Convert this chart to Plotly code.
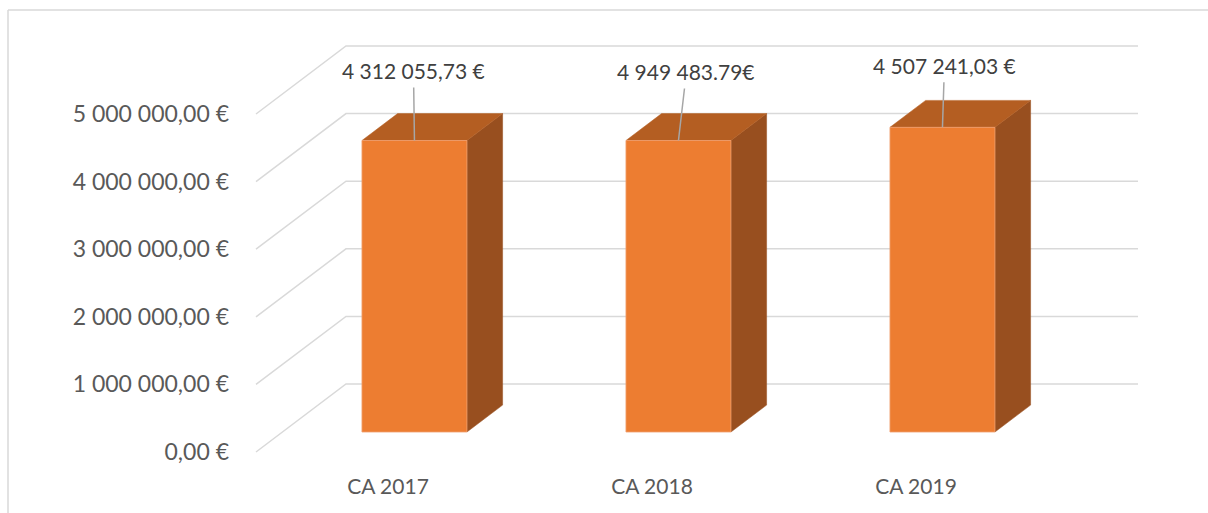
import plotly.graph_objects as go

# ---- data ----
categories = ["CA 2017", "CA 2018", "CA 2019"]
values = [4312055.73, 4312055.73, 4507241.03]          # drawn bar heights
label_texts = ["4 312 055,73 €", "4 949 483.79€", "4 507 241,03 €"]
y_tickvals = [0, 1000000, 2000000, 3000000, 4000000, 5000000]
y_ticktext = ["0,00 €", "1 000 000,00 €", "2 000 000,00 €",
              "3 000 000,00 €", "4 000 000,00 €", "5 000 000,00 €"]

# ---- pseudo-3D geometry (styling) ----
W, H = 1208, 513
PX_X = 264.0           # px per category unit
PX_Y = 67.6 / 1e6      # px per euro
DEPTH_X = 90 / PX_X    # depth shift in category units
DEPTH_Y = 68 / PX_Y    # depth shift in euro units
D_FRONT, D_BACK = 0.294, 0.69
BAR_W = 105 / PX_X
PAD = 4

front_left_px, back_right_px = 256, 1139
front_zero_px = 452
ml = front_left_px - PAD
mr = W - back_right_px - PAD
mb = H - front_zero_px - PAD
mt = 42
plot_w = W - ml - mr
plot_h = H - mt - mb
xr0 = -0.5 - PAD / PX_X
xr = [xr0, xr0 + plot_w / PX_X]
yr0 = -PAD / PX_Y
yr = [yr0, yr0 + plot_h / PX_Y]

GRID = "#D9D9D9"
C_FRONT, C_TOP, C_SIDE = "#ED7D31", "#B45E22", "#984F1F"

fig = go.Figure()

# gridlines: left side wall diagonal + back wall
gx, gy = [], []
n = len(categories)
for v in y_tickvals:
    gx += [-0.5, -0.5 + DEPTH_X, n - 0.5 + DEPTH_X, None]
    gy += [v, v + DEPTH_Y, v + DEPTH_Y, None]
fig.add_trace(go.Scatter(x=gx, y=gy, mode="lines",
                         line=dict(color=GRID, width=1.5),
                         hoverinfo="skip", showlegend=False))

# bars
for i, v in enumerate(values):
    fx0 = i + D_FRONT * DEPTH_X - BAR_W / 2
    fx1 = fx0 + BAR_W
    fy0 = D_FRONT * DEPTH_Y
    fy1 = v + fy0
    bdx = (D_BACK - D_FRONT) * DEPTH_X
    bdy = (D_BACK - D_FRONT) * DEPTH_Y
    # side
    fig.add_trace(go.Scatter(x=[fx1, fx1 + bdx, fx1 + bdx, fx1, fx1],
                             y=[fy0, fy0 + bdy, fy1 + bdy, fy1, fy0],
                             fill="toself", fillcolor=C_SIDE, mode="lines",
                             line=dict(color=C_SIDE, width=0.5),
                             hoverinfo="skip", showlegend=False))
    # top
    fig.add_trace(go.Scatter(x=[fx0, fx1, fx1 + bdx, fx0 + bdx, fx0],
                             y=[fy1, fy1, fy1 + bdy, fy1 + bdy, fy1],
                             fill="toself", fillcolor=C_TOP, mode="lines",
                             line=dict(color=C_TOP, width=0.5),
                             hoverinfo="skip", showlegend=False))
    # front
    fig.add_trace(go.Scatter(x=[fx0, fx1, fx1, fx0, fx0],
                             y=[fy0, fy0, fy1, fy1, fy0],
                             fill="toself", fillcolor=C_FRONT, mode="lines",
                             line=dict(color="#F0A070", width=0.8),
                             hoverinfo="skip", showlegend=False))

# data labels with leader lines
label_offsets = [(-1, -70), (8, -69), (2, -62)]
for i, v in enumerate(values):
    ax, ay = label_offsets[i]
    fig.add_annotation(x=i + D_FRONT * DEPTH_X, y=v + D_FRONT * DEPTH_Y,
                       text=label_texts[i], showarrow=True, arrowhead=0,
                       arrowwidth=1.5, arrowcolor="#A6A6A6", ax=ax, ay=ay,
                       standoff=0, borderpad=4,
                       font=dict(family="Lato", size=21, color="#404040"))

# outer chart border (left & top)
fig.add_shape(type="line", xref="paper", yref="paper",
              x0=(8 - ml) / plot_w, x1=(8 - ml) / plot_w,
              y0=-0.3, y1=(H - 10 - mb) / plot_h,
              line=dict(color=GRID, width=1.5))
fig.add_shape(type="line", xref="paper", yref="paper",
              x0=(8 - ml) / plot_w, x1=1.3,
              y0=(H - 10 - mb) / plot_h, y1=(H - 10 - mb) / plot_h,
              line=dict(color=GRID, width=1.5))

fig.update_layout(
    width=W, height=H,
    margin=dict(l=ml, r=mr, t=mt, b=mb, pad=0),
    paper_bgcolor="white", plot_bgcolor="white",
    font=dict(family="Lato", color="#595959"),
    xaxis=dict(range=xr, tickvals=list(range(n)), ticktext=categories,
               showgrid=False, zeroline=False, showline=False,
               ticks="", tickfont=dict(size=21, color="#595959"),
               ticklabelstandoff=16, fixedrange=True),
    yaxis=dict(range=yr, tickvals=y_tickvals, ticktext=y_ticktext,
               showgrid=False, zeroline=False, showline=False,
               ticks="", tickfont=dict(size=23, color="#595959"),
               ticklabelstandoff=22, fixedrange=True),
    showlegend=False,
)

fig.write_html("out.html", config={"displayModeBar": False},
               post_script="document.body.style.margin='0';")
